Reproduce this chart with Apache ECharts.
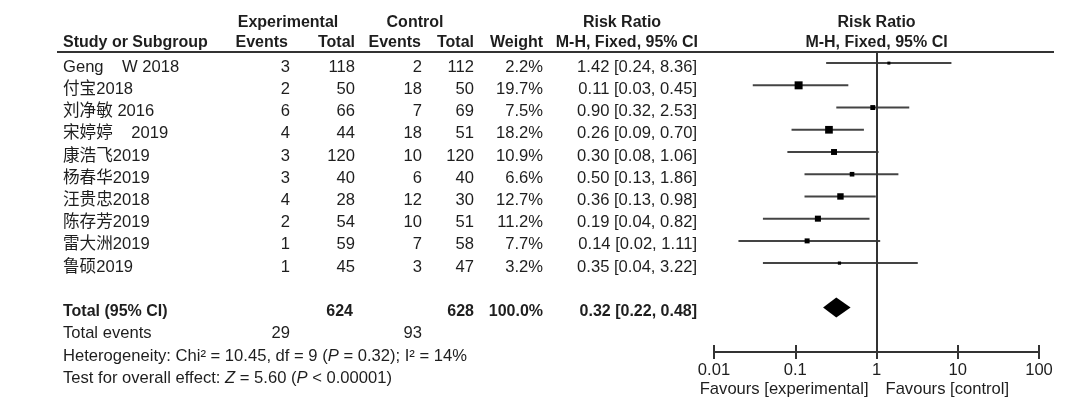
<!DOCTYPE html>
<html><head><meta charset="utf-8">
<script src="https://cdn.jsdelivr.net/npm/echarts@6/dist/echarts.min.js"></script>
<style>html,body{margin:0;padding:0;background:#fff}#c{width:1080px;height:419px}</style>
</head><body><div id="c"></div>
<script>
// ---- data ----
const studies   = ['Geng    W 2018','付宝2018','刘净敏 2016','宋婷婷    2019','康浩飞2019','杨春华2019','汪贵忠2018','陈存芳2019','雷大洲2019','鲁硕2019'];
const expEvents = [3, 2, 6, 4, 3, 3, 4, 2, 1, 1];
const expTotal  = [118, 50, 66, 44, 120, 40, 28, 54, 59, 45];
const ctlEvents = [2, 18, 7, 18, 10, 6, 12, 10, 7, 3];
const ctlTotal  = [112, 50, 69, 51, 120, 40, 30, 51, 58, 47];
const weights   = [2.2, 19.7, 7.5, 18.2, 10.9, 6.6, 12.7, 11.2, 7.7, 3.2];
const rr        = [1.42, 0.11, 0.90, 0.26, 0.30, 0.50, 0.36, 0.19, 0.14, 0.35];
const ciLow     = [0.24, 0.03, 0.32, 0.09, 0.08, 0.13, 0.13, 0.04, 0.02, 0.04];
const ciHigh    = [8.36, 0.45, 2.53, 0.70, 1.06, 1.86, 0.98, 0.82, 1.11, 3.22];
const totalExp = 624, totalCtl = 628, totalWeight = 100.0;
const totalRR = [0.32, 0.22, 0.48];
const totalEventsExp = 29, totalEventsCtl = 93;
const hetText  = 'Heterogeneity: Chi² = 10.45, df = 9 ({i|P} = 0.32); I² = 14%';
const testText = 'Test for overall effect: {i|Z} = 5.60 ({i|P} < 0.00001)';
const tickValues = [0.01, 0.1, 1, 10, 100];
const tickLabels = ['0.01', '0.1', '1', '10', '100'];

// ---- layout ----
const FONT = '"Liberation Sans", Arial, "Noto Sans CJK SC", sans-serif';
const COLOR = '#1e1e1e';
const LINE = '#333';
const FS = 16.6, FSB = 16;
const COL = {name: 63, expE: 290, expT: 355, ctlE: 422, ctlT: 474, wt: 543, rr: 697};
const ROW_TOTAL = 11, ROW_EVENTS = 12, ROW_HET = 13, ROW_TEST = 14;
const DY = 4;

function fmt2(v){ return v.toFixed(2); }
function ciStr(a,b,c){ return fmt2(a) + ' [' + fmt2(b) + ', ' + fmt2(c) + ']'; }

function T(x, y, text, align, bold, rich) {
  const fs = bold ? FSB : FS;
  const st = {
    text: text, x: x, y: y, align: align, verticalAlign: 'middle',
    fill: COLOR, fontSize: fs, fontFamily: FONT, fontWeight: bold ? 'bold' : 'normal'
  };
  if (rich) st.rich = {i: {fontStyle: 'italic', fontSize: fs, fontFamily: FONT, fill: COLOR}};
  return {type: 'text', style: st, silent: true};
}

const chart = echarts.init(document.getElementById('c'), null, {renderer: 'canvas'});

function tableRender(params, api) {
  const ch = [];
  const P = (x, row) => api.coord([x, row]);
  let y1 = P(0, -2)[1] + DY, y2 = P(0, -1.1)[1] + DY;
  ch.push(T(288, y1, 'Experimental', 'center', true));
  ch.push(T(415, y1, 'Control', 'center', true));
  ch.push(T(622, y1, 'Risk Ratio', 'center', true));
  ch.push(T(COL.name, y2, 'Study or Subgroup', 'left', true));
  ch.push(T(288, y2, 'Events', 'right', true));
  ch.push(T(COL.expT, y2, 'Total', 'right', true));
  ch.push(T(421, y2, 'Events', 'right', true));
  ch.push(T(COL.ctlT, y2, 'Total', 'right', true));
  ch.push(T(COL.wt, y2, 'Weight', 'right', true));
  ch.push(T(698, y2, 'M-H, Fixed, 95% CI', 'right', true));
  const a = P(57, -0.5), b = P(1054, -0.5);
  ch.push({type: 'line', shape: {x1: a[0], y1: a[1], x2: b[0], y2: b[1]}, style: {stroke: LINE, lineWidth: 2}, silent: true});
  studies.forEach((s, i) => {
    const y = P(0, i)[1] + DY;
    ch.push(T(COL.name, y, s, 'left'));
    ch.push(T(COL.expE, y, String(expEvents[i]), 'right'));
    ch.push(T(COL.expT, y, String(expTotal[i]), 'right'));
    ch.push(T(COL.ctlE, y, String(ctlEvents[i]), 'right'));
    ch.push(T(COL.ctlT, y, String(ctlTotal[i]), 'right'));
    ch.push(T(COL.wt, y, weights[i].toFixed(1) + '%', 'right'));
    ch.push(T(COL.rr, y, ciStr(rr[i], ciLow[i], ciHigh[i]), 'right'));
  });
  let y = P(0, ROW_TOTAL)[1] + DY;
  ch.push(T(COL.name, y, 'Total (95% CI)', 'left', true));
  ch.push(T(353, y, String(totalExp), 'right', true));
  ch.push(T(COL.ctlT, y, String(totalCtl), 'right', true));
  ch.push(T(COL.wt, y, totalWeight.toFixed(1) + '%', 'right', true));
  ch.push(T(COL.rr, y, ciStr(totalRR[0], totalRR[1], totalRR[2]), 'right', true));
  y = P(0, ROW_EVENTS)[1] + DY;
  ch.push(T(COL.name, y, 'Total events', 'left'));
  ch.push(T(290, y, String(totalEventsExp), 'right'));
  ch.push(T(COL.ctlE, y, String(totalEventsCtl), 'right'));
  y = P(0, ROW_HET)[1] + DY;
  ch.push(T(COL.name, y, hetText, 'left', false, true));
  y = P(0, ROW_TEST)[1] + DY;
  ch.push(T(COL.name, y, testText, 'left', false, true));
  return {type: 'group', children: ch};
}

function ciRender(params, api) {
  const est = api.value(0), lo = api.value(1), hi = api.value(2), row = api.value(3), w = api.value(4);
  const p0 = api.coord([lo, row]), p1 = api.coord([hi, row]), c = api.coord([est, row]);
  const s = Math.max(3, 1.8 * Math.sqrt(w));
  return {type: 'group', children: [
    {type: 'line', shape: {x1: p0[0], y1: p0[1], x2: p1[0], y2: p1[1]}, style: {stroke: '#444', lineWidth: 2}},
    {type: 'rect', shape: {x: c[0] - s / 2, y: c[1] - s / 2, width: s, height: s}, style: {fill: '#000'}}
  ]};
}

function diamondRender(params, api) {
  const est = api.value(0), lo = api.value(1), hi = api.value(2), row = api.value(3);
  const l = api.coord([lo, row]), r = api.coord([hi, row]), c = api.coord([est, row]);
  const h = 10;
  return {type: 'polygon', shape: {points: [[l[0], c[1]], [c[0], c[1] - h], [r[0], c[1]], [c[0], c[1] + h]]}, style: {fill: '#000'}};
}

function forestTextRender(params, api) {
  const ch = [];
  const top1 = api.coord([1, -2]), top2 = api.coord([1, -1.1]), fav = api.coord([1, 14.5]);
  ch.push(T(top1[0], top1[1] + DY, 'Risk Ratio', 'center', true));
  ch.push(T(top2[0], top2[1] + DY, 'M-H, Fixed, 95% CI', 'center', true));
  ch.push(T(fav[0] - 8, fav[1] + DY, 'Favours [experimental]', 'right'));
  ch.push(T(fav[0] + 9, fav[1] + DY, 'Favours [control]', 'left'));
  return {type: 'group', children: ch};
}

const yCommon = {type: 'value', min: -0.5, max: 13, inverse: true, show: false};

chart.setOption({
  animation: false,
  backgroundColor: '#fff',
  grid: [
    {left: 0, right: 0, top: 52, bottom: 67},
    {left: 714, right: 41, top: 52, bottom: 67}
  ],
  xAxis: [
    {type: 'value', gridIndex: 0, min: 0, max: 1080, show: false},
    {type: 'log', gridIndex: 1, logBase: 10, min: tickValues[0], max: tickValues[tickValues.length - 1],
     position: 'bottom',
     axisLine: {show: true, onZero: false, lineStyle: {color: LINE, width: 2}},
     axisTick: {show: true, inside: false, length: 7, lineStyle: {color: LINE, width: 2}},
     splitLine: {show: false},
     axisLabel: {show: true, margin: 10, color: COLOR, fontSize: 16.6, fontFamily: FONT,
       formatter: v => { const k = tickValues.findIndex(t => Math.abs(Math.log10(t) - Math.log10(v)) < 1e-6); return k >= 0 ? tickLabels[k] : ''; }}},
    {type: 'log', gridIndex: 1, logBase: 10, min: tickValues[0], max: tickValues[tickValues.length - 1],
     position: 'bottom',
     axisLine: {show: false, onZero: false},
     axisTick: {show: true, inside: true, length: 7, lineStyle: {color: LINE, width: 2}},
     splitLine: {show: false},
     axisLabel: {show: false}}
  ],
  yAxis: [
    Object.assign({gridIndex: 0}, yCommon),
    Object.assign({gridIndex: 1}, yCommon)
  ],
  series: [
    {type: 'custom', xAxisIndex: 0, yAxisIndex: 0, data: [[0, 0]], renderItem: tableRender, silent: true, clip: false},
    {type: 'custom', xAxisIndex: 1, yAxisIndex: 1,
     data: rr.map((v, i) => [v, ciLow[i], ciHigh[i], i, weights[i]]),
     encode: {x: [0, 1, 2], y: 3},
     renderItem: ciRender, silent: true, clip: false,
     markLine: {silent: true, symbol: 'none', label: {show: false},
       lineStyle: {color: LINE, width: 2, type: 'solid'}, data: [{xAxis: 1}]}},
    {type: 'custom', xAxisIndex: 1, yAxisIndex: 1,
     data: [[totalRR[0], totalRR[1], totalRR[2], ROW_TOTAL]],
     encode: {x: [0, 1, 2], y: 3}, renderItem: diamondRender, silent: true},
    {type: 'custom', xAxisIndex: 1, yAxisIndex: 1, data: [[1, 0]], renderItem: forestTextRender, silent: true, clip: false}
  ]
});
</script></body></html>
